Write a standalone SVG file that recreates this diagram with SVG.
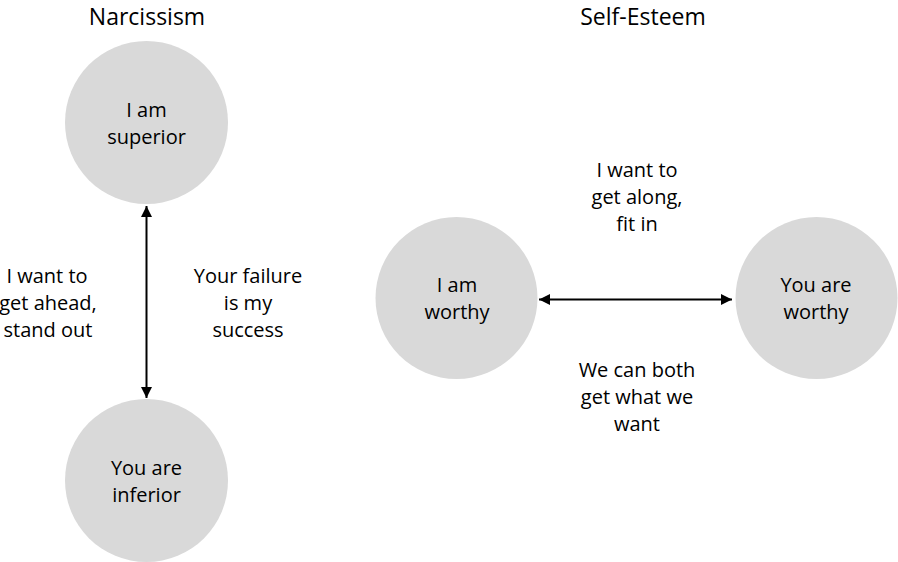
<svg xmlns="http://www.w3.org/2000/svg" width="898" height="562" viewBox="0 0 898 562">
<defs>
<style>
text{font-family:"Open Sans","Noto Sans","Liberation Sans",sans-serif;fill:#000;text-anchor:middle}
.t{font-size:23px}
.l{font-size:20px}
.c{fill:#d9d9d9}
.a{stroke:#000;stroke-width:2;fill:none}
</style>
<marker id="ah" viewBox="0 0 10 10" refX="10" refY="5" markerWidth="5.5" markerHeight="5.5" orient="auto-start-reverse" markerUnits="strokeWidth">
<path d="M0,0 L10,5 L0,10 z" fill="#000"/>
</marker>
</defs>
<rect width="898" height="562" fill="#fff"/>
<g id="titles">
<text class="t" x="147" y="25">Narcissism</text>
<text class="t" x="643" y="25">Self-Esteem</text>
</g>
<g id="superior">
<circle class="c" cx="146.5" cy="122.5" r="81.5"/>
<text class="l" x="146.5" y="117">I am</text>
<text class="l" x="146.5" y="144">superior</text>
</g>
<g id="inferior">
<circle class="c" cx="146.5" cy="480.5" r="81.5"/>
<text class="l" x="146.5" y="475">You are</text>
<text class="l" x="146.5" y="502">inferior</text>
</g>
<g id="worthy-me">
<circle class="c" cx="456.5" cy="298" r="81"/>
<text class="l" x="457" y="292">I am</text>
<text class="l" x="457" y="319">worthy</text>
</g>
<g id="worthy-you">
<circle class="c" cx="816.5" cy="298" r="81"/>
<text class="l" x="816" y="292">You are</text>
<text class="l" x="816" y="319">worthy</text>
</g>
<g id="connectors">
<line class="a" x1="146.5" y1="206" x2="146.5" y2="398" marker-start="url(#ah)" marker-end="url(#ah)"/>
<line class="a" x1="539" y1="299.5" x2="732" y2="299.5" marker-start="url(#ah)" marker-end="url(#ah)"/>
</g>
<g id="labels">
<text class="l" x="47" y="283">I want to</text>
<text class="l" x="48" y="310">get ahead,</text>
<text class="l" x="48" y="337">stand out</text>
<text class="l" x="248" y="283">Your failure</text>
<text class="l" x="248" y="310">is my</text>
<text class="l" x="248" y="337">success</text>
<text class="l" x="637" y="177">I want to</text>
<text class="l" x="637" y="204">get along,</text>
<text class="l" x="637" y="231">fit in</text>
<text class="l" x="637" y="377">We can both</text>
<text class="l" x="637" y="404">get what we</text>
<text class="l" x="637" y="431">want</text>
</g>
</svg>
